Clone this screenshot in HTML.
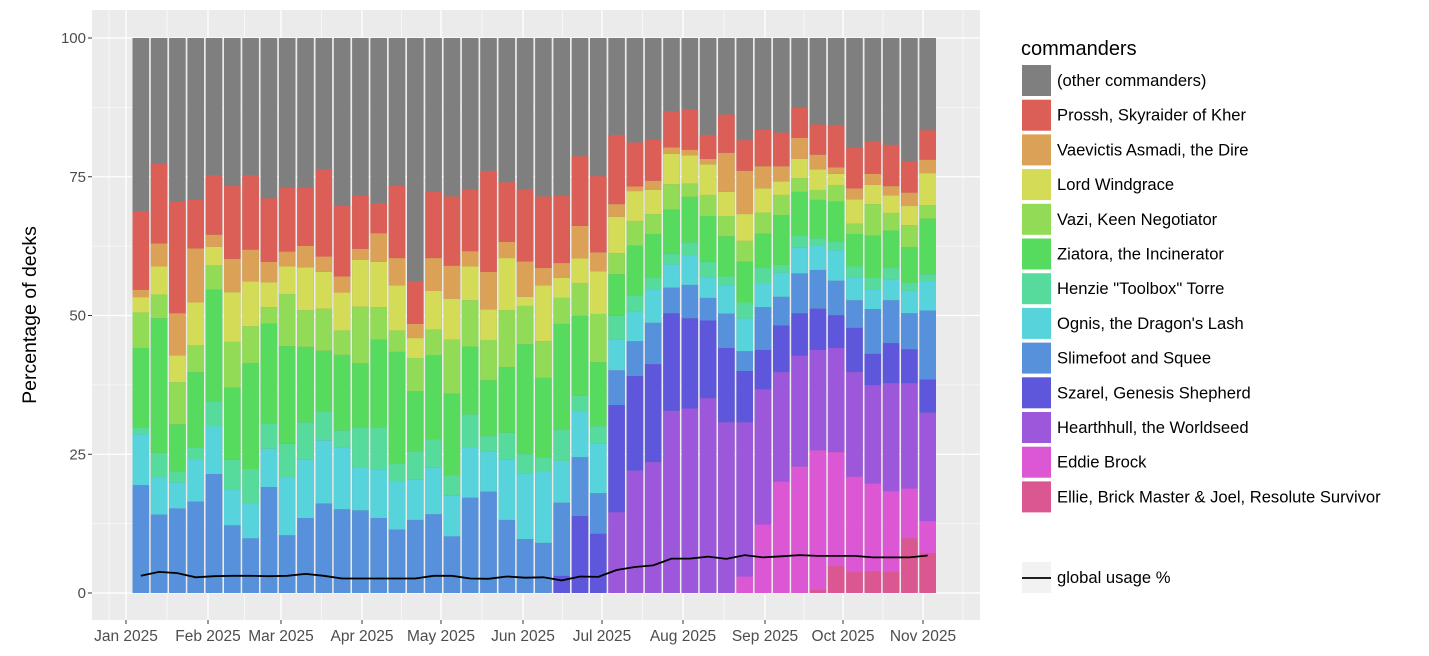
<!DOCTYPE html>
<html><head><meta charset="utf-8"><style>
body{margin:0;background:#fff;font-family:"Liberation Sans",sans-serif}
svg text{font-family:"Liberation Sans",sans-serif}
</style></head><body>
<svg id="s" width="1429" height="651" xmlns="http://www.w3.org/2000/svg"></svg>
<script>
const s=document.getElementById('s');
let h='';
const X0=92,X1=980,Y0=10,Y1=620;
h+=`<rect x="${X0}" y="${Y0}" width="${X1-X0}" height="${Y1-Y0}" fill="#ebebeb"/>`;
const yp=p=>593-p*5.55;
[12.5,37.5,62.5,87.5].forEach(p=>h+=`<line x1="${X0}" x2="${X1}" y1="${yp(p)}" y2="${yp(p)}" stroke="#fff" stroke-width="0.6"/>`);
[0,25,50,75,100].forEach(p=>{h+=`<line x1="${X0}" x2="${X1}" y1="${yp(p)}" y2="${yp(p)}" stroke="#fff" stroke-width="1.3"/>`;
h+=`<text x="86" y="${yp(p)+5}" font-size="15" fill="#4d4d4d" text-anchor="end">${p}</text>`;
h+=`<line x1="88" x2="92" y1="${yp(p)}" y2="${yp(p)}" stroke="#333" stroke-width="1"/>`;});
const ticks=[[126,'Jan 2025'],[208,'Feb 2025'],[281,'Mar 2025'],[362,'Apr 2025'],[441,'May 2025'],[523,'Jun 2025'],[602,'Jul 2025'],[683,'Aug 2025'],[765,'Sep 2025'],[843,'Oct 2025'],[923,'Nov 2025']];
for(let i=0;i<ticks.length;i++){const x=ticks[i][0];
 h+=`<line x1="${x}" x2="${x}" y1="${Y0}" y2="${Y1}" stroke="#fff" stroke-width="1.3"/>`;
 const m=i<ticks.length-1?(x+ticks[i+1][0])/2:x+40;
 h+=`<line x1="${m}" x2="${m}" y1="${Y0}" y2="${Y1}" stroke="#fff" stroke-width="0.6"/>`;
 h+=`<line x1="${x}" x2="${x}" y1="${Y1}" y2="${Y1+4}" stroke="#333"/>`;
 h+=`<text x="${x}" y="641" font-size="15.5" fill="#4d4d4d" text-anchor="middle">${ticks[i][1]}</text>`;}
{const m=(X0+126)/2;h+=`<line x1="${m}" x2="${m}" y1="${Y0}" y2="${Y1}" stroke="#fff" stroke-width="0.6"/>`;}
const cols=['#db5791','#db57d3','#9c57db','#5e57db','#5791db','#57d3db','#57db9c','#57db5e','#91db57','#d3db57','#dba157','#db5f57'];
const D=[
{s:1188,o:1055,he:1037,z:830,v:737,l:697,va:678,p:472},
{s:1265,o:1167,he:1104,z:752,v:690,l:617,va:557,p:348},
{s:1249,o:1181,he:1154,z:1029,v:919,l:849,va:739,p:448},
{s:1231,o:1120,he:1090,z:893,v:823,l:711,va:570,p:442},
{s:1159,o:1035,he:971,z:677,v:614,l:566,va:534,p:378},
{s:1293,o:1201,he:1122,z:933,v:814,l:684,va:597,p:407},
{s:1327,o:1236,he:1146,z:869,v:773,l:656,va:573,p:378},
{s:1193,o:1093,he:1027,z:766,v:723,l:658,va:605,p:439},
{s:1319,o:1167,he:1080,z:825,v:689,l:617,va:578,p:411},
{s:1274,o:1122,he:1024,z:827,v:731,l:619,va:563,p:411},
{s:1236,o:1071,he:995,z:837,v:727,l:631,va:591,p:363},
{s:1251,o:1089,he:1045,z:848,v:784,l:685,va:643,p:459},
{s:1254,o:1142,he:1039,z:870,v:722,l:600,va:571,p:431},
{s:1274,o:1148,he:1037,z:808,v:723,l:605,va:530,p:451},
{s:1304,o:1180,he:1131,z:840,v:784,l:666,va:595,p:406},
{s:1279,o:1174,he:1100,z:943,v:856,l:804,va:767,p:655},
{s:1264,o:1143,he:1069,z:849,v:782,l:681,va:595,p:421},
{s:1322,o:1216,he:1163,z:949,v:808,l:701,va:615,p:434},
{s:1221,o:1090,he:1003,z:826,v:705,l:617,va:577,p:415},
{s:1205,o:1100,he:1060,z:914,v:809,l:729,va:631,p:367},
{s:1279,o:1122,he:1051,z:880,v:731,l:595,va:553,p:397},
{s:1329,o:1157,he:1107,z:820,v:720,l:696,va:604,p:415},
{s:1339,o:1154,he:1115,z:908,v:812,l:666,va:621,p:434},
{sz:1425,s:1234,o:1125,he:1044,z:767,v:699,l:647,va:608,p:431},
{sz:1269,s:1115,o:997,he:955,z:746,v:660,l:596,va:511,p:329},
{sz:1315,s:1209,o:1079,he:1034,z:867,v:741,l:630,va:580,p:381},
{h:1259,sz:979,s:888,o:808,he:746,z:637,v:582,l:487,va:454,p:273},
{h:1150,sz:903,s:812,o:735,he:694,z:562,v:498,l:420,va:408,p:293},
{h:1128,sz:872,s:764,o:676,he:645,z:532,v:480,l:417,va:393,p:285},
{h:994,sz:739,s:672,o:612,he:584,z:468,v:402,l:323,va:306,p:211},
{h:988,sz:752,s:665,o:587,he:554,z:435,v:400,l:327,va:312,p:207},
{h:961,sz:758,s:699,o:646,he:605,z:485,v:430,l:350,va:336,p:273},
{h:1024,sz:830,s:740,o:666,he:643,z:538,v:485,l:422,va:320,p:220},
{ed:1427,h:1024,sz:890,s:838,o:753,he:711,z:604,v:550,l:480,va:367,p:287},
{ed:1291,h:938,sz:835,s:723,o:660,he:621,z:531,v:476,l:413,va:355,p:260},
{ed:1179,h:893,sz:771,s:696,o:633,he:613,z:483,v:430,l:395,va:355,p:267},
{ed:1140,h:850,sz:739,s:635,o:568,he:535,z:422,v:386,l:336,va:281,p:203},
{el:1462,ed:1097,h:835,sz:727,s:626,o:561,he:543,z:443,v:417,l:363,va:325,p:246},
{el:1400,ed:1102,h:830,sz:744,s:654,o:575,he:553,z:447,v:404,l:375,va:358,p:247},
{el:1415,ed:1166,h:893,sz:777,s:705,o:645,he:617,z:532,v:505,l:442,va:413,p:306},
{el:1414,ed:1184,h:927,sz:845,s:728,o:676,he:645,z:536,v:454,l:404,va:375,p:289},
{el:1415,ed:1204,h:922,sz:817,s:705,o:652,he:621,z:523,v:477,l:431,va:407,p:299},
{el:1327,ed:1197,h:922,sz:833,s:739,o:680,he:659,z:566,v:509,l:459,va:424,p:343},
{el:1366,ed:1282,h:999,sz:912,s:732,o:655,he:637,z:492,v:457,l:373,va:338,p:261}];
const keys=['el','ed','h','sz','s','o','he','z','v','l','va','p'];
const zy=z=>38+(z-20)*555/1450;
const L=[1425,1415,1418,1429,1426,1425,1425,1426,1425,1420,1425,1432,1432,1432,1432,1432,1425,1425,1432,1433,1427,1430,1429,1437,1427,1428,1410,1402,1398,1380,1380,1375,1381,1371,1377,1374,1371,1373,1373,1373,1377,1377,1377,1372,1378];
let pts=[];
D.forEach((d,i)=>{const x=132.5+i*18.3,w=16.6;let prev=1470;
 h+=`<rect x="${x}" y="38" width="${w}" height="555" fill="#7f7f7f"/>`;
 keys.forEach((k,j)=>{if(d[k]===undefined)return;const t=d[k];
  h+=`<rect x="${x}" y="${zy(t)}" width="${w}" height="${zy(prev)-zy(t)}" fill="${cols[j]}"/>`;prev=t;});
 pts.push(`${(x+w/2).toFixed(1)},${zy(L[i]).toFixed(1)}`);});
h+=`<polyline points="${pts.join(' ')}" fill="none" stroke="#000" stroke-width="1.8"/>`;
h+=`<text transform="translate(36,315) rotate(-90)" font-size="19.5" text-anchor="middle" fill="#000">Percentage of decks</text>`;
h+=`<text x="1021" y="55" font-size="20" fill="#000">commanders</text>`;
const names=['(other commanders)','Prossh, Skyraider of Kher','Vaevictis Asmadi, the Dire','Lord Windgrace','Vazi, Keen Negotiator','Ziatora, the Incinerator','Henzie "Toolbox" Torre','Ognis, the Dragon\'s Lash','Slimefoot and Squee','Szarel, Genesis Shepherd','Hearthhull, the Worldseed','Eddie Brock','Ellie, Brick Master &amp; Joel, Resolute Survivor'];
const lc=['#7f7f7f','#db5f57','#dba157','#d3db57','#91db57','#57db5e','#57db9c','#57d3db','#5791db','#5e57db','#9c57db','#db57d3','#db5791'];
names.forEach((n,i)=>{const y=65+i*34.7;
 h+=`<rect x="1022" y="${y}" width="29" height="31" fill="${lc[i]}"/>`;
 h+=`<text x="1057" y="${y+21}" font-size="16.6" fill="#000">${n}</text>`;});
h+=`<rect x="1022" y="562" width="29" height="31" fill="#f2f2f2"/><line x1="1022" x2="1051" y1="578" y2="578" stroke="#000" stroke-width="1.8"/>`;
h+=`<text x="1057" y="583" font-size="16.6" fill="#000">global usage %</text>`;
s.innerHTML=h;
</script>
</body></html>
